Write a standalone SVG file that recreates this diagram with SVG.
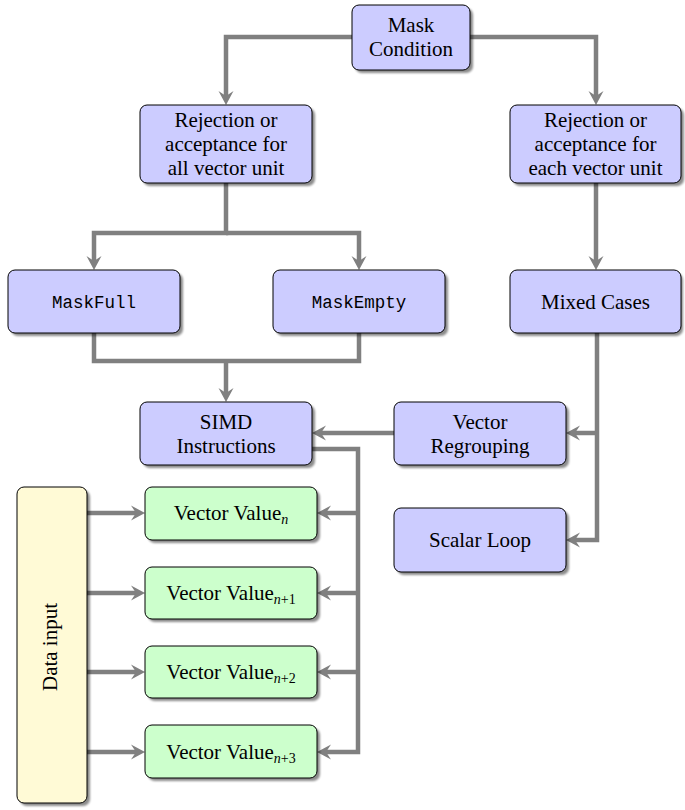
<svg xmlns="http://www.w3.org/2000/svg" width="685" height="810" viewBox="0 0 685 810">
<style>
.box{stroke:#000;stroke-width:1}
.blue{fill:#ccccff}
.green{fill:#ccffcc}
.yellow{fill:#fffad6}
.sh{fill:#000;opacity:0.45}
.t{font-family:"Liberation Serif","Times New Roman",serif;font-size:21px;fill:#000;text-anchor:middle}
.m{font-family:"Liberation Mono","Courier New",monospace;font-size:17.5px;fill:#000;text-anchor:middle}
.sub{font-size:14px;font-style:italic}
.subr{font-size:14px;font-style:normal}
.c{fill:none;stroke:#808080;stroke-width:4.5}
.a{marker-end:url(#arr)}
</style>
<defs>
<filter id="blur" x="-10%" y="-10%" width="130%" height="130%"><feGaussianBlur stdDeviation="1"/></filter>
<marker id="arr" markerUnits="userSpaceOnUse" markerWidth="30" markerHeight="30" refX="0" refY="0" viewBox="-15 -15 30 30" orient="auto" overflow="visible">
<path d="M9,0 L-5,-7.5 L0,0 L-5,7.5 Z" fill="#808080"/>
</marker>
</defs>
<g id="connectors">
<path class="c a" d="M352,37 H226 V96"/>
<path class="c a" d="M470,37 H596 V96"/>
<path class="c a" d="M226,183 V233 H94 V261"/>
<path class="c a" d="M226,233 H359 V261"/>
<path class="c" d="M94,333 V361 H359 V333"/>
<path class="c a" d="M226,361 V393"/>
<path class="c a" d="M596,183 V261"/>
<path class="c a" d="M597,333 V540 H575"/>
<path class="c a" d="M597,433 H575"/>
<path class="c a" d="M394,433 H321"/>
<path class="c a" d="M312,449 H358 V752 H326"/>
<path class="c a" d="M358,513 H326"/>
<path class="c a" d="M358,593 H326"/>
<path class="c a" d="M358,672 H326"/>
<path class="c a" d="M87,513 H136"/>
<path class="c a" d="M87,593 H136"/>
<path class="c a" d="M87,672 H136"/>
<path class="c a" d="M87,752 H136"/>
</g>
<g id="mask">
<rect class="sh" filter="url(#blur)" x="355" y="8" width="118" height="65" rx="7"/>
<rect class="box blue" x="352" y="5" width="118" height="65" rx="7"/>
<text class="t" x="411" y="32">Mask</text>
<text class="t" x="411" y="56">Condition</text>
</g>
<g id="rejAll">
<rect class="sh" filter="url(#blur)" x="143" y="108" width="172" height="78" rx="7"/>
<rect class="box blue" x="140" y="105" width="172" height="78" rx="7"/>
<text class="t" x="226" y="127">Rejection or</text>
<text class="t" x="226" y="151">acceptance for</text>
<text class="t" x="226" y="175">all vector unit</text>
</g>
<g id="rejEach">
<rect class="sh" filter="url(#blur)" x="513" y="108" width="171" height="78" rx="7"/>
<rect class="box blue" x="510" y="105" width="171" height="78" rx="7"/>
<text class="t" x="595.5" y="127">Rejection or</text>
<text class="t" x="595.5" y="151">acceptance for</text>
<text class="t" x="595.5" y="175">each vector unit</text>
</g>
<g id="maskFull">
<rect class="sh" filter="url(#blur)" x="11" y="273" width="172" height="63" rx="7"/>
<rect class="box blue" x="8" y="270" width="172" height="63" rx="7"/>
<text class="m" x="94" y="308">MaskFull</text>
</g>
<g id="maskEmpty">
<rect class="sh" filter="url(#blur)" x="276" y="273" width="172" height="63" rx="7"/>
<rect class="box blue" x="273" y="270" width="172" height="63" rx="7"/>
<text class="m" x="359" y="308">MaskEmpty</text>
</g>
<g id="mixed">
<rect class="sh" filter="url(#blur)" x="513" y="273" width="170" height="63" rx="7"/>
<rect class="box blue" x="510" y="270" width="171" height="63" rx="7"/>
<text class="t" x="595.5" y="309">Mixed Cases</text>
</g>
<g id="simd">
<rect class="sh" filter="url(#blur)" x="143" y="405" width="172" height="63" rx="7"/>
<rect class="box blue" x="140" y="402" width="172" height="63" rx="7"/>
<text class="t" x="226" y="429">SIMD</text>
<text class="t" x="226" y="453">Instructions</text>
</g>
<g id="regroup">
<rect class="sh" filter="url(#blur)" x="397" y="405" width="172" height="63" rx="7"/>
<rect class="box blue" x="394" y="402" width="172" height="63" rx="7"/>
<text class="t" x="480" y="429">Vector</text>
<text class="t" x="480" y="453">Regrouping</text>
</g>
<g id="scalar">
<rect class="sh" filter="url(#blur)" x="397" y="511" width="172" height="64" rx="7"/>
<rect class="box blue" x="394" y="508" width="172" height="64" rx="7"/>
<text class="t" x="480" y="547">Scalar Loop</text>
</g>
<g id="data">
<rect class="sh" filter="url(#blur)" x="20" y="490" width="70" height="316" rx="7"/>
<rect class="box yellow" x="17" y="487" width="70" height="316" rx="7"/>
<text class="t" transform="translate(57,647) rotate(-90)" x="0" y="0">Data input</text>
</g>
<g id="vv0">
<rect class="sh" filter="url(#blur)" x="148" y="490" width="172" height="53" rx="7"/>
<rect class="box green" x="145" y="487" width="172" height="53" rx="7"/>
<text class="t" x="231" y="520">Vector Value<tspan class="sub" dy="4">n</tspan></text>
</g>
<g id="vv1">
<rect class="sh" filter="url(#blur)" x="148" y="570" width="172" height="52" rx="7"/>
<rect class="box green" x="145" y="567" width="172" height="52" rx="7"/>
<text class="t" x="231" y="600">Vector Value<tspan class="sub" dy="4">n</tspan><tspan class="subr">+1</tspan></text>
</g>
<g id="vv2">
<rect class="sh" filter="url(#blur)" x="148" y="649" width="172" height="52" rx="7"/>
<rect class="box green" x="145" y="646" width="172" height="52" rx="7"/>
<text class="t" x="231" y="679">Vector Value<tspan class="sub" dy="4">n</tspan><tspan class="subr">+2</tspan></text>
</g>
<g id="vv3">
<rect class="sh" filter="url(#blur)" x="148" y="728" width="172" height="53" rx="7"/>
<rect class="box green" x="145" y="725" width="172" height="53" rx="7"/>
<text class="t" x="231" y="759">Vector Value<tspan class="sub" dy="4">n</tspan><tspan class="subr">+3</tspan></text>
</g>
</svg>
